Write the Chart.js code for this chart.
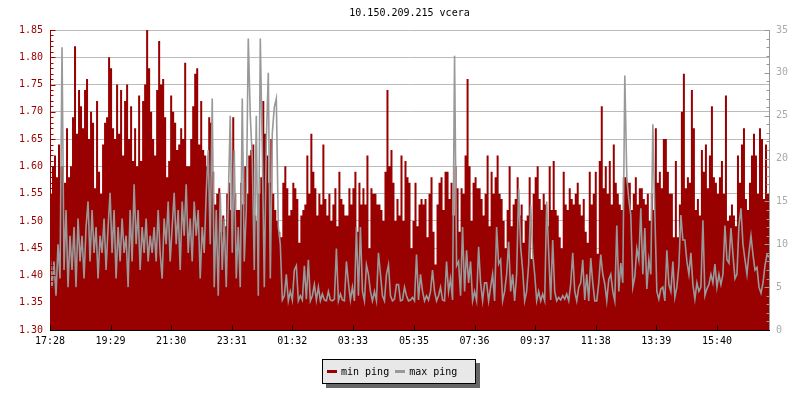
<!DOCTYPE html>
<html>
<head>
<meta charset="utf-8">
<script src="https://cdn.jsdelivr.net/npm/chart.js@4.4.0/dist/chart.umd.min.js"></script>
<style>
  body { margin: 0; background: #fff; }
  #wrap { position: relative; width: 800px; height: 400px; }
  #legend {
    position: absolute; left: 322px; top: 359px; width: 154px; height: 25px;
    box-sizing: border-box; background: #e8e8e8; border: 1px solid #000;
    box-shadow: 4px 4px 0 #666; display: flex; align-items: center;
    padding-left: 4px; font: 10px 'DejaVu Sans Mono', monospace; color: #000;
  }
  #legend .sw { display: inline-block; width: 10px; height: 3px; margin-right: 4px; }
  #legend .it { display: flex; align-items: center; margin-right: 6px; }
</style>
</head>
<body>
<div id="wrap">
  <canvas id="c" width="800" height="400"></canvas>
  <div id="legend"></div>
</div>
<script>
var title = '10.150.209.215 vcera';
var tickLabels = ['17:28', '19:29', '21:30', '23:31', '01:32', '03:33', '05:35', '07:36', '09:37', '11:38', '13:39', '15:40'];
var stepMinutes = 4; // one sample every 4 minutes from 17:28
var minColor = '#990000';
var maxColor = '#999999';

// min ping, left axis
var minPing = [
  1.55,1.60,1.62,1.58,1.64,1.60,1.60,1.57,1.67,1.58,1.60,1.69,1.82,1.66,1.74,1.71,1.67,1.74,1.76,1.65,
  1.70,1.68,1.56,1.72,1.59,1.55,1.64,1.68,1.69,1.80,1.78,1.67,1.65,1.75,1.66,1.74,1.62,1.72,1.75,1.65,
  1.71,1.61,1.67,1.60,1.73,1.61,1.72,1.75,1.85,1.78,1.70,1.65,
  1.62,1.74,1.83,1.75,1.76,1.69,1.58,1.61,1.73,1.70,1.68,1.63,1.64,1.67,1.65,1.79,1.60,1.60,1.65,1.71,
  1.77,1.78,1.64,1.72,1.63,1.62,1.60,1.69,1.68,1.59,1.53,1.55,1.56,1.48,1.51,1.49,1.55,1.57,1.52,1.69,
  1.55,1.52,1.52,1.57,1.53,1.60,1.55,1.62,1.63,1.64,1.51,
  1.50,1.55,1.58,1.72,1.66,1.62,1.57,1.65,1.55,1.52,1.50,1.48,1.47,1.57,1.60,1.56,1.51,1.52,1.57,1.56,
  1.54,1.46,1.51,1.52,1.53,1.62,1.55,1.66,1.59,1.56,1.51,1.55,1.53,1.64,1.54,1.51,1.55,1.50,1.53,1.56,
  1.49,1.59,1.54,1.53,1.51,1.51,1.56,1.53,1.56,1.59,1.48,
  1.57,1.53,1.56,1.53,1.62,1.45,1.56,1.55,1.55,1.53,1.53,1.52,1.50,1.59,1.74,1.60,1.63,1.57,1.50,1.54,
  1.51,1.62,1.50,1.61,1.58,1.57,1.45,1.50,1.57,1.49,1.53,1.54,1.53,1.54,1.47,1.55,1.58,1.48,1.42,1.53,
  1.57,1.58,1.52,1.59,1.59,1.54,1.57,1.51,1.60,1.56,1.48,
  1.56,1.55,1.62,1.76,1.60,1.50,1.57,1.58,1.56,1.56,1.54,1.51,1.55,1.62,1.49,1.59,1.55,1.58,1.62,1.55,
  1.54,1.50,1.45,1.52,1.60,1.49,1.53,1.54,1.58,1.51,1.53,1.46,1.50,1.51,1.58,1.43,1.55,1.58,1.60,1.54,
  1.52,1.55,1.53,1.49,1.60,1.52,1.61,1.52,1.51,1.47,1.45,
  1.59,1.53,1.52,1.56,1.54,1.53,1.55,1.57,1.53,1.51,1.54,1.48,1.46,1.59,1.53,1.55,1.59,1.44,1.61,1.71,
  1.56,1.60,1.55,1.61,1.53,1.64,1.57,1.55,1.53,1.52,1.58,1.58,1.57,1.57,1.52,1.55,1.58,1.53,1.56,1.56,
  1.54,1.53,1.55,1.50,1.55,1.52,1.67,1.57,1.59,1.56,1.65,
  1.65,1.59,1.55,1.55,1.47,1.61,1.47,1.53,1.70,1.77,1.56,1.58,1.57,1.74,1.67,1.52,1.54,1.51,1.63,1.59,
  1.64,1.56,1.62,1.71,1.58,1.57,1.55,1.58,1.61,1.55,1.73,1.50,1.51,1.53,1.51,1.49,1.62,1.57,1.64,1.67,
  1.54,1.52,1.57,1.62,1.66,1.62,1.55,1.67,1.65,1.54,1.64,1.55,1.51
];

// max ping, right axis
var maxPing = [
  9,5,8,4,10,6,33,7,14,5,11,7,12,5,13,8,11,6,12,15,
  8,14,9,12,6,11,9,13,7,12,16,9,14,6,12,8,13,9,11,5,
  14,8,17,10,14,7,12,9,13,8,11,9,
  12,8,14,9,6,13,10,15,8,12,16,10,14,7,15,11,17,9,13,8,
  15,11,14,6,12,9,16,21,10,27,5,14,4,16,7,13,5,15,25,9,
  21,6,12,5,27,8,14,34,25,20,7,
  25,4,34,21,5,22,30,6,23,26,27,12,10,3.5,4,6.5,3.4,4.5,3.5,7,
  7.5,3.4,4,3.5,7.5,3.6,8.2,3.4,4,5.3,3.5,5,3.4,4.2,3.5,3.4,4.5,3.5,3.4,3.6,
  9.5,3.4,4.2,3.5,3.4,8,5.5,3.5,5,3.4,12,
  4,12,4.5,3.4,7.6,6.5,4.5,3.4,4.5,3.4,9,6.5,4,3.4,6.5,7.6,4,3.4,3.6,5.3,
  5.3,3.4,3.5,5,4,3.4,3.5,3.8,3.4,8.8,3.5,6.5,4.5,3.4,4,3.5,4.5,7,4.5,3.4,
  4,5,3.5,3.4,8,4.5,6,3.5,32,7.5,8,
  4,12,4.5,9.3,5.5,8,3.4,4.5,3.4,9.7,5.5,3.4,5.5,5.5,3.4,5,6.5,3.4,12,7.7,
  8.2,3.4,4.5,6.5,10.3,4.5,6.5,3.4,6.5,16.5,9.7,7,3.4,4.5,7.7,14.6,9,6.5,3.4,4.5,
  3.4,4.2,3.4,15,9,3.5,10.5,4.5,3.4,3.8,3.5,
  4,3.6,4.2,3.4,5.4,9,4.5,3.4,5,5.5,8.2,3.5,6.5,3.4,8.4,5.5,3.4,3.4,5.5,8.8,
  6.5,5.4,3.4,5.9,6.5,4.5,3.4,12.2,4.5,7.8,5.5,29.7,17.9,15.2,13.4,5,6.2,9.5,8.2,14.2,
  6.5,11.9,4.8,8.2,6.5,24,13.6,4.5,3.6,4.8,5,
  3.4,9.3,5.3,4.5,8,3.8,5,7.5,13.4,10.5,10.5,8,6.5,9,5.3,3.6,5.5,4.5,5,12.8,
  4,4.8,5.3,6.5,5.5,7.7,5,6.5,5.3,6.5,12.2,8.2,7.8,11.9,8.8,6,6.5,12.2,14.2,10,
  8.2,6.5,9,11,8.8,7,7.3,5,4.3,5.5,7.5,8.8,8.5
];

// minutes after the first label, for each tick label
var tickMinutes = [];
var base = null, dayOffset = 0, prev = -1;
tickLabels.forEach(function (t) {
  var m = parseInt(t.slice(0, 2), 10) * 60 + parseInt(t.slice(3), 10);
  if (m < prev) dayOffset += 1440;
  prev = m;
  if (base === null) base = m;
  tickMinutes.push(m + dayOffset - base);
});

function toPoints(values) {
  return values.map(function (v, i) { return { x: i * stepMinutes, y: v }; });
}

Chart.defaults.font.family = "'DejaVu Sans Mono', monospace";
Chart.defaults.font.size = 10;

var frame = {
  id: 'frame',
  afterDatasetsDraw: function (chart) {
    var ctx = chart.ctx, a = chart.chartArea;
    var y = chart.scales.y, y2 = chart.scales.y2, x = chart.scales.x;
    var lx = Math.round(a.left) + 0.5, rx = Math.round(a.right) + 0.5, by = Math.round(a.bottom) + 0.5;
    var k, p;
    ctx.save();
    ctx.lineWidth = 1;

    // left axis
    ctx.strokeStyle = minColor;
    ctx.beginPath();
    ctx.moveTo(lx, a.top); ctx.lineTo(lx, a.bottom);
    for (k = 0; k <= 55; k++) {
      p = Math.round(y.getPixelForValue(y.min + k * 0.01)) + 0.5;
      ctx.moveTo(lx, p); ctx.lineTo(lx + (k % 5 ? 3 : 5), p);
    }
    ctx.stroke();

    // right axis
    ctx.strokeStyle = maxColor;
    ctx.beginPath();
    ctx.moveTo(rx, a.top); ctx.lineTo(rx, a.bottom);
    for (k = 0; k <= 35; k++) {
      p = Math.round(y2.getPixelForValue(k)) + 0.5;
      ctx.moveTo(rx, p); ctx.lineTo(rx - (k % 5 ? 3 : 5), p);
    }
    ctx.stroke();

    // bottom axis
    ctx.strokeStyle = '#000';
    ctx.beginPath();
    ctx.moveTo(a.left, by); ctx.lineTo(a.right + 1, by);
    tickMinutes.forEach(function (m) {
      var px = Math.round(x.getPixelForValue(m)) + 0.5;
      ctx.moveTo(px, by); ctx.lineTo(px, by - 5);
    });
    ctx.stroke();

    // title
    ctx.fillStyle = '#000';
    ctx.font = "10px 'DejaVu Sans Mono', monospace";
    ctx.textAlign = 'center';
    ctx.textBaseline = 'middle';
    ctx.fillText(title, (a.left + a.right) / 2, 13);
    ctx.restore();
  }
};

var chart = new Chart(document.getElementById('c'), {
  type: 'line',
  data: {
    datasets: [
      {
        label: 'min ping', data: toPoints(minPing), yAxisID: 'y',
        stepped: true, fill: 'start', backgroundColor: minColor,
        borderColor: 'rgba(0,0,0,0)', borderWidth: 0, pointRadius: 0, order: 2
      },
      {
        label: 'max ping', data: toPoints(maxPing), yAxisID: 'y2',
        fill: false, borderColor: maxColor, tension: 0,
        borderWidth: 1.6, pointRadius: 0, order: 1
      }
    ]
  },
  options: {
    responsive: false,
    animation: false,
    events: [],
    layout: { padding: { top: 30, left: 0, right: 0, bottom: 0 } },
    plugins: { legend: { display: false }, tooltip: { enabled: false } },
    scales: {
      x: {
        type: 'linear', min: 0, max: (minPing.length - 1) * stepMinutes,
        grid: { display: false, drawTicks: false }, border: { display: false },
        afterBuildTicks: function (s) { s.ticks = tickMinutes.map(function (v) { return { value: v }; }); },
        afterFit: function (s) { s.height = 70; },
        ticks: {
          autoSkip: false, maxRotation: 0, color: '#000', padding: 5,
          callback: function (v, i) { return tickLabels[i]; }
        }
      },
      y: {
        position: 'left', min: 1.30, max: 1.85,
        grid: { color: '#bbbbbb', drawTicks: false }, border: { display: false },
        afterFit: function (s) { s.width = 50; },
        ticks: { stepSize: 0.05, color: minColor, padding: 7, callback: function (v) { return v.toFixed(2); } }
      },
      y2: {
        position: 'right', min: 0, max: 35,
        grid: { display: false, drawTicks: false }, border: { display: false },
        afterFit: function (s) { s.width = 31; },
        ticks: { stepSize: 5, color: '#aaaaaa', padding: 7 }
      }
    }
  },
  plugins: [frame]
});

// legend built from the datasets
var legend = document.getElementById('legend');
chart.data.datasets.forEach(function (ds, i) {
  var item = document.createElement('span');
  item.className = 'it';
  var sw = document.createElement('span');
  sw.className = 'sw';
  sw.style.background = i === 0 ? minColor : maxColor;
  item.appendChild(sw);
  item.appendChild(document.createTextNode(ds.label));
  legend.appendChild(item);
});
</script>
</body>
</html>
